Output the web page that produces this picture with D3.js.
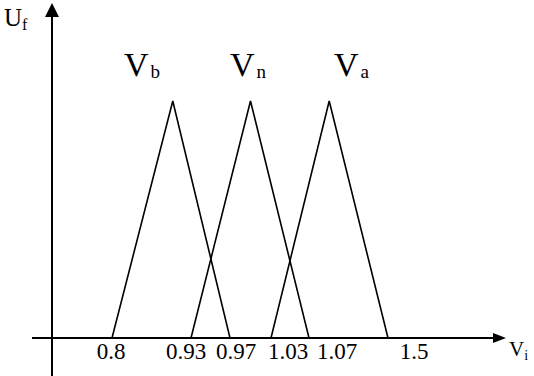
<!DOCTYPE html>
<html><head><meta charset="utf-8">
<script src="https://cdn.jsdelivr.net/npm/d3@7/dist/d3.min.js"></script>
<style>
body{margin:0;background:#fff}
svg text{font-family:"Liberation Serif",serif;fill:#000}
</style>
</head><body>
<svg id="c" width="534" height="376"></svg>
<script>
// Voltage breakpoints (p.u.) and fuzzy sets: bajo, normal, alto
const breakpoints = [0.8, 0.93, 0.97, 1.03, 1.07, 1.5];
const tickLabels = ["0.8", "0.93", "0.97", "1.03", "1.07", "1.5"];
const setNames = ["b", "n", "a"];
const setFeetLeft = [0.8, 0.93, 1.03];
const setPeaks = [0.9, 1.0, 1.18];
const setFeetRight = [0.97, 1.07, 1.5];
const peakDegree = 1;

// Layout (schematic, piecewise axis)
const W = 534, H = 376;
const axisY = 338, axisX = 52;
const breakX = [112, 191, 230, 271, 309, 388];
const tickTextX = [111, 186, 236, 288, 337, 414];
const setLabelX = [124, 230, 334];
const serif = "'Liberation Serif', serif";

const svg = d3.select("#c");
const x = d3.scaleLinear().domain(breakpoints).range(breakX);
const xt = d3.scaleLinear().domain(breakpoints).range(tickTextX);
const y = d3.scaleLinear().domain([0, peakDegree]).range([axisY, 101]);

// axes
svg.append("line").attr("x1", 32).attr("x2", 496).attr("y1", axisY).attr("y2", axisY)
  .attr("stroke", "#000").attr("stroke-width", 2);
svg.append("path").attr("d", `M506,${axisY}L493,${axisY-5}L493,${axisY+5}Z`).attr("fill", "#000");
svg.append("line").attr("x1", axisX).attr("x2", axisX).attr("y1", H).attr("y2", 14)
  .attr("stroke", "#000").attr("stroke-width", 2);
svg.append("path").attr("d", `M${axisX},3L${axisX-7},17L${axisX+7},17Z`).attr("fill", "#000");

// membership triangles
const line = d3.line().x(d => x(d[0])).y(d => y(d[1]));
setNames.forEach((n, i) => {
  svg.append("path")
    .attr("d", line([[setFeetLeft[i], 0], [setPeaks[i], peakDegree], [setFeetRight[i], 0]]))
    .attr("fill", "none").attr("stroke", "#000").attr("stroke-width", 1.6);
});

// tick labels
svg.selectAll("text.tick").data(breakpoints).enter().append("text")
  .attr("class", "tick")
  .style("font-family", serif)
  .attr("x", d => xt(d)).attr("y", 359)
  .attr("text-anchor", "middle").style("font-size", "23px")
  .text((d, i) => tickLabels[i]);

// set labels, subscripts trimmed at the baseline band
svg.append("clipPath").attr("id", "lab").append("rect")
  .attr("x", 0).attr("y", 0).attr("width", W).attr("height", 78);
const lg = svg.append("g").attr("clip-path", "url(#lab)");
setNames.forEach((n, i) => {
  const t = lg.append("text").style("font-family", serif)
    .attr("x", setLabelX[i]).attr("y", 76).style("font-size", "34px");
  t.append("tspan").text("V");
  t.append("tspan").style("font-size", "19px").attr("dx", 2).attr("dy", 2).text(n);
});

// axis titles
const uf = svg.append("text").style("font-family", serif)
  .attr("x", 4).attr("y", 26).style("font-size", "25px");
uf.append("tspan").text("U");
uf.append("tspan").style("font-size", "16px").attr("dy", 4).text("f");
const vi = svg.append("text").style("font-family", serif)
  .attr("x", 509).attr("y", 356).style("font-size", "21px");
vi.append("tspan").text("V");
vi.append("tspan").style("font-size", "14px").attr("dy", 4).text("i");
</script>
</body></html>
